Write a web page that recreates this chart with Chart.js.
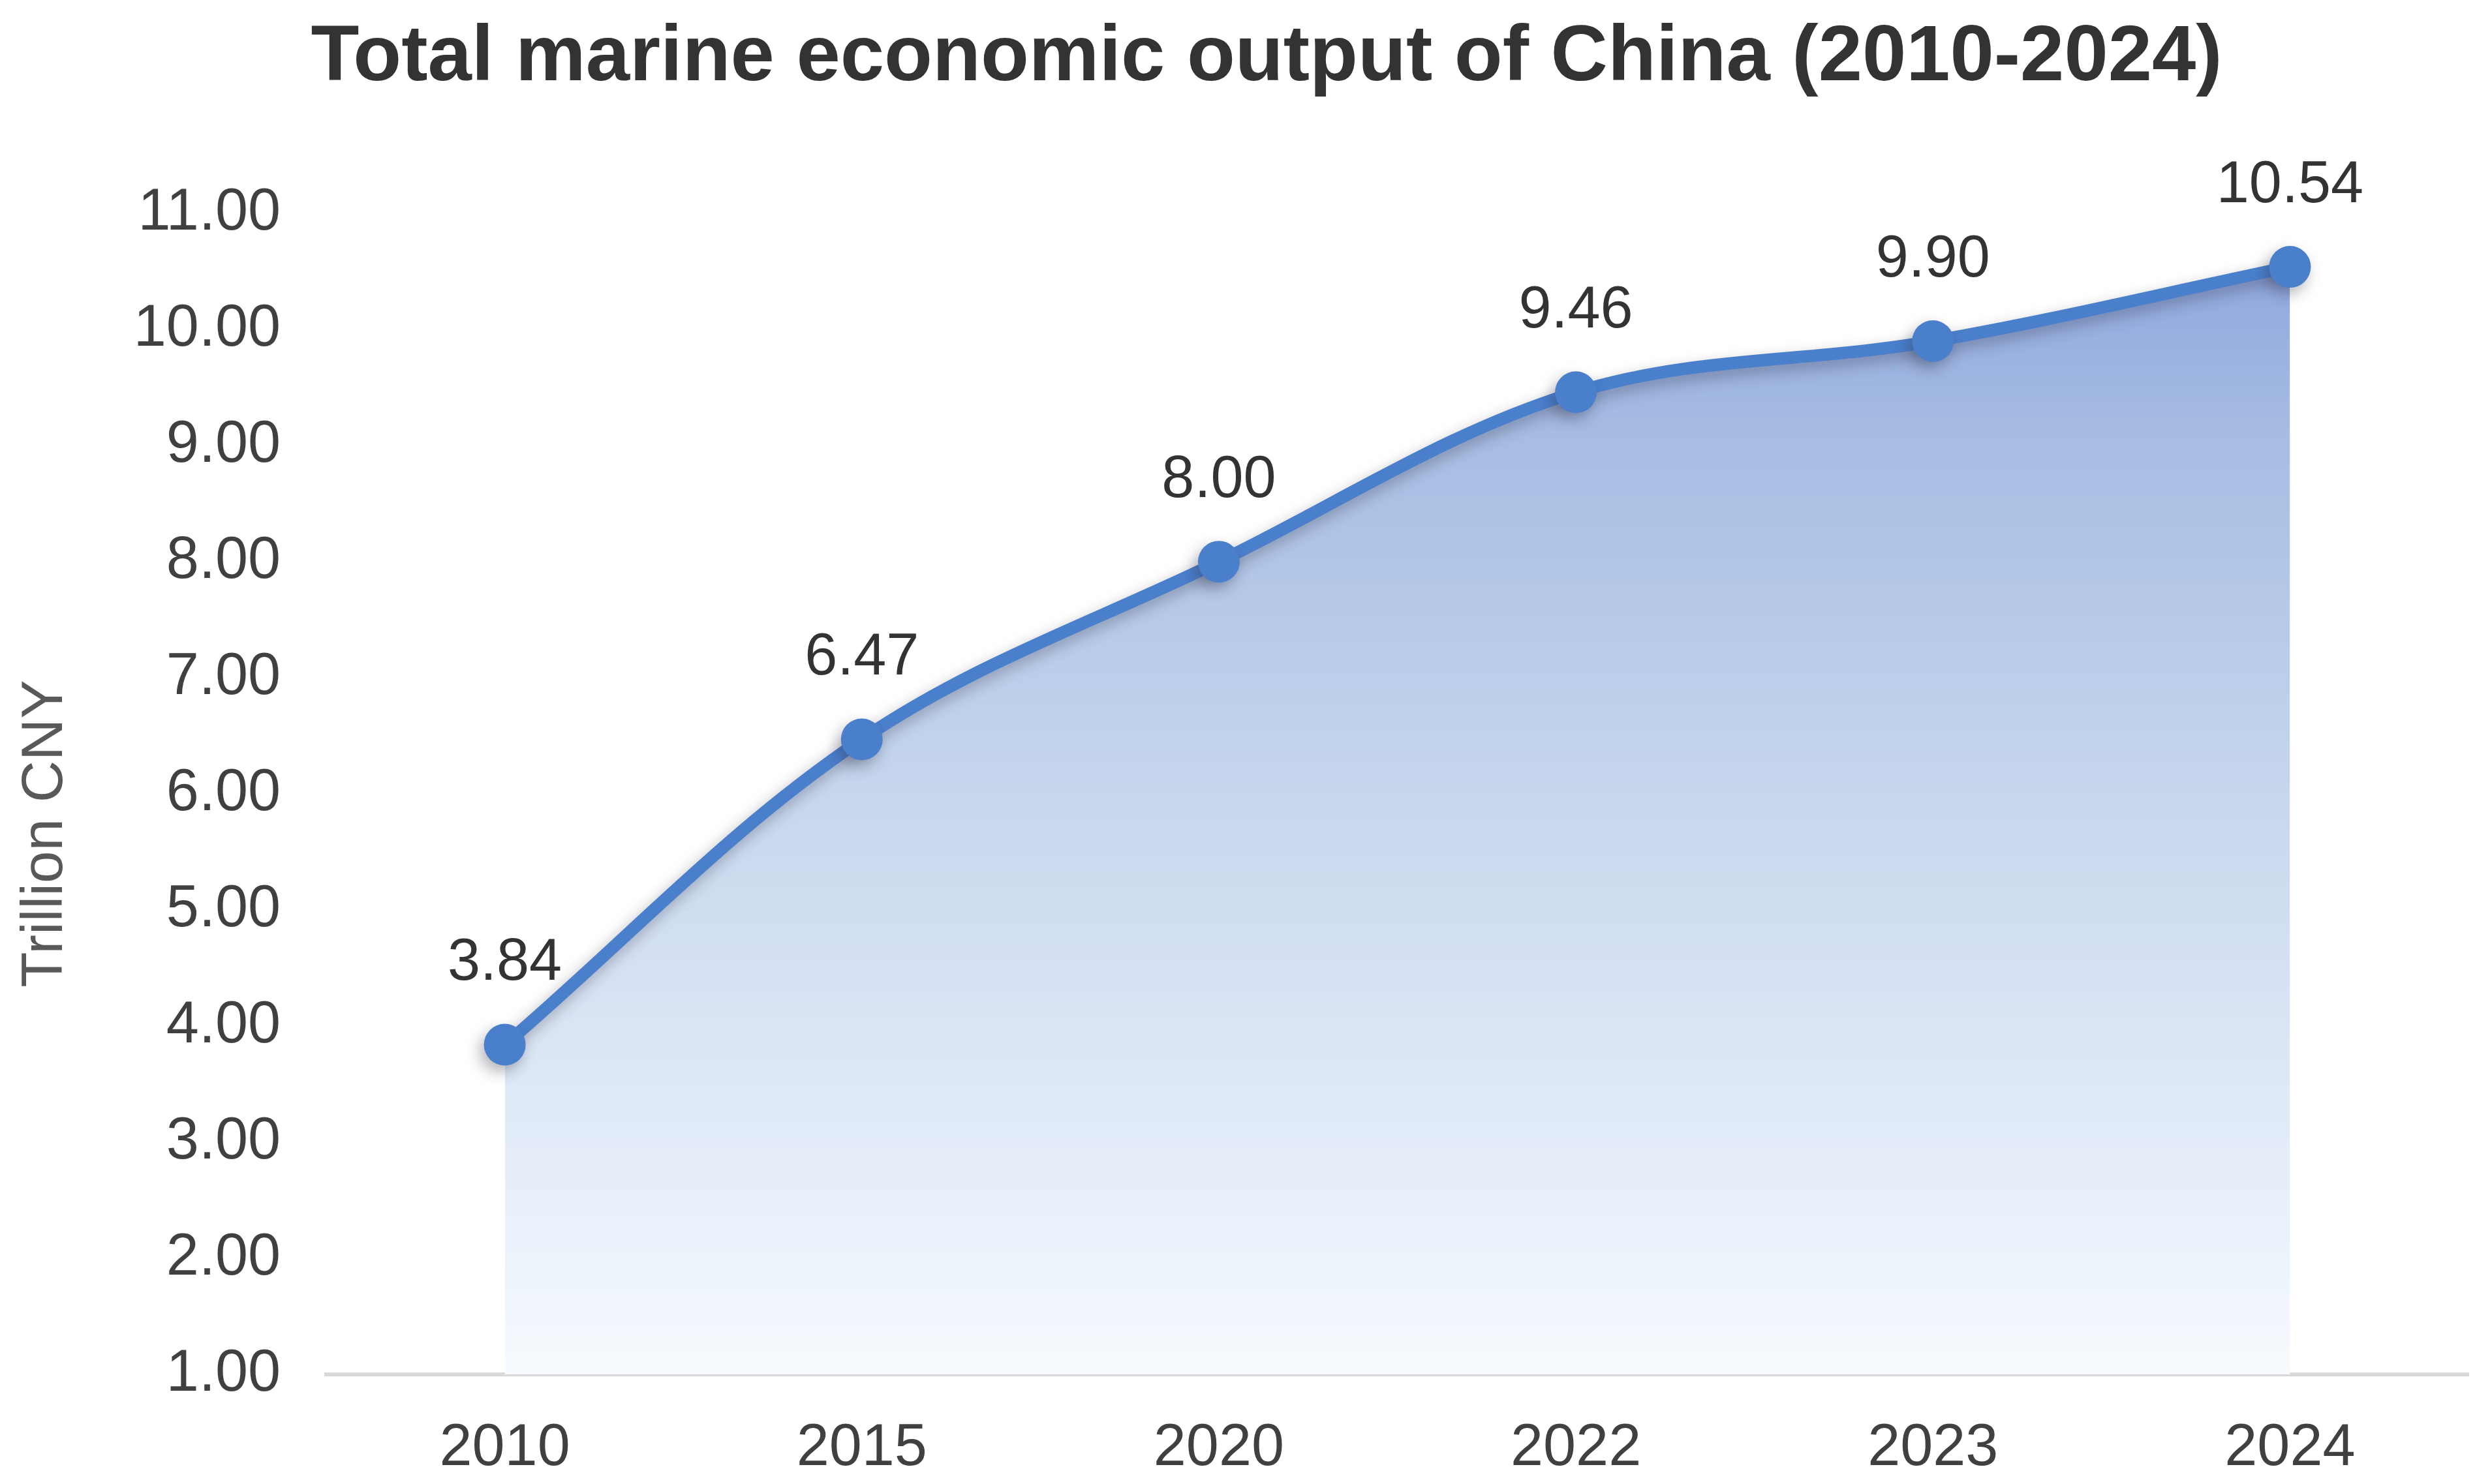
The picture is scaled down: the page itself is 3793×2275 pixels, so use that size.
<!DOCTYPE html>
<html lang="en">
<head>
    <meta charset="UTF-8">
    <title>Total marine economic output of China (2010-2024)</title>
    <script src="https://cdn.jsdelivr.net/npm/chart.js@4.4.1/dist/chart.umd.min.js"></script>
    <style>
        html, body { margin: 0; padding: 0; background: #ffffff; }
        canvas { display: block; }
    </style>
</head>
<body>
    <canvas id="marineChart" width="3793" height="2275"></canvas>

    <script>
        // Chart data
        const years = ['2010', '2015', '2020', '2022', '2023', '2024'];
        const outputTrillion = [3.84, 6.47, 8.00, 9.46, 9.90, 10.54];
        const yTicks = [1, 2, 3, 4, 5, 6, 7, 8, 9, 10, 11];

        const chartTitle = 'Total marine economic output of China (2010-2024)';
        const yAxisTitle = 'Trillion CNY';

        const lineBlue = '#4A7FCC';
        const fontFamily = '"Liberation Sans", Arial, Helvetica, sans-serif';

        // soft shadow under the line and points
        const shadowPlugin = {
            id: 'lineShadow',
            beforeDatasetDraw(chart) {
                const ctx = chart.ctx;
                ctx.save();
                ctx.shadowColor = 'rgba(40, 40, 60, 0.35)';
                ctx.shadowBlur = 22;
                ctx.shadowOffsetX = -6;
                ctx.shadowOffsetY = 10;
            },
            afterDatasetDraw(chart) {
                chart.ctx.restore();
            }
        };

        // value labels above each point
        const valueLabels = {
            id: 'valueLabels',
            afterDatasetsDraw(chart) {
                const ctx = chart.ctx;
                const meta = chart.getDatasetMeta(0);
                ctx.save();
                ctx.font = '90px ' + fontFamily;
                ctx.fillStyle = '#333333';
                ctx.textAlign = 'center';
                ctx.textBaseline = 'middle';
                meta.data.forEach((pt, i) => {
                    ctx.fillText(outputTrillion[i].toFixed(2), pt.x, pt.y - 124);
                });
                ctx.restore();
            }
        };

        // rotated y axis title, placed like the original
        const axisTitle = {
            id: 'axisTitle',
            afterDraw(chart) {
                const ctx = chart.ctx;
                ctx.save();
                ctx.translate(70, 1278);
                ctx.rotate(-Math.PI / 2);
                ctx.font = '89px ' + fontFamily;
                ctx.fillStyle = '#595959';
                ctx.textAlign = 'center';
                ctx.textBaseline = 'middle';
                ctx.fillText(yAxisTitle, 0, 0);
                ctx.restore();
            }
        };

        const ctx = document.getElementById('marineChart').getContext('2d');

        new Chart(ctx, {
            type: 'line',
            data: {
                labels: years,
                datasets: [{
                    label: yAxisTitle,
                    data: outputTrillion,
                    borderColor: lineBlue,
                    borderWidth: 19,
                    pointRadius: 32,
                    pointBackgroundColor: lineBlue,
                    pointBorderWidth: 0,
                    tension: 0.35,
                    fill: 'start',
                    backgroundColor: (context) => {
                        const area = context.chart.chartArea;
                        if (!area) return 'rgba(160,185,225,0.6)';
                        const yScale = context.chart.scales.y;
                        const top = yScale.getPixelForValue(Math.max(...outputTrillion));
                        const g = context.chart.ctx.createLinearGradient(0, top, 0, area.bottom);
                        g.addColorStop(0, '#8FA8DF');
                        g.addColorStop(0.15, '#A6BCE2');
                        g.addColorStop(0.5, '#C9D8EE');
                        g.addColorStop(0.85, '#E8F0FA');
                        g.addColorStop(1, '#F7FAFE');
                        return g;
                    }
                }]
            },
            options: {
                responsive: false,
                devicePixelRatio: 1,
                animation: false,
                layout: {
                    autoPadding: false,
                    padding: { left: 99, right: 10, top: 0, bottom: 0 }
                },
                plugins: {
                    legend: { display: false },
                    tooltip: { enabled: false },
                    title: {
                        display: true,
                        text: chartTitle,
                        color: '#333333',
                        font: { family: fontFamily, size: 121, weight: 'bold' },
                        padding: { top: 17, bottom: 165 }
                    }
                },
                scales: {
                    x: {
                        offset: true,
                        afterFit(scale) {
                            scale.height = 168;
                            scale.paddingLeft = 0;
                            scale.paddingRight = 0;
                        },
                        grid: { display: false, drawTicks: false },
                        border: { display: true, color: '#D9D9D9', width: 6 },
                        ticks: {
                            color: '#404040',
                            padding: 60,
                            font: { family: fontFamily, size: 90 }
                        }
                    },
                    y: {
                        min: yTicks[0],
                        max: yTicks[yTicks.length - 1],
                        afterFit(scale) { scale.width = 401; },
                        afterBuildTicks(scale) {
                            scale.ticks = yTicks.map(v => ({ value: v }));
                        },
                        grid: { display: false, drawTicks: false },
                        border: { display: false },
                        ticks: {
                            color: '#404040',
                            padding: 70,
                            font: { family: fontFamily, size: 90 },
                            callback: (v) => Number(v).toFixed(2)
                        }
                    }
                }
            },
            plugins: [shadowPlugin, valueLabels, axisTitle]
        });
    </script>
</body>
</html>
